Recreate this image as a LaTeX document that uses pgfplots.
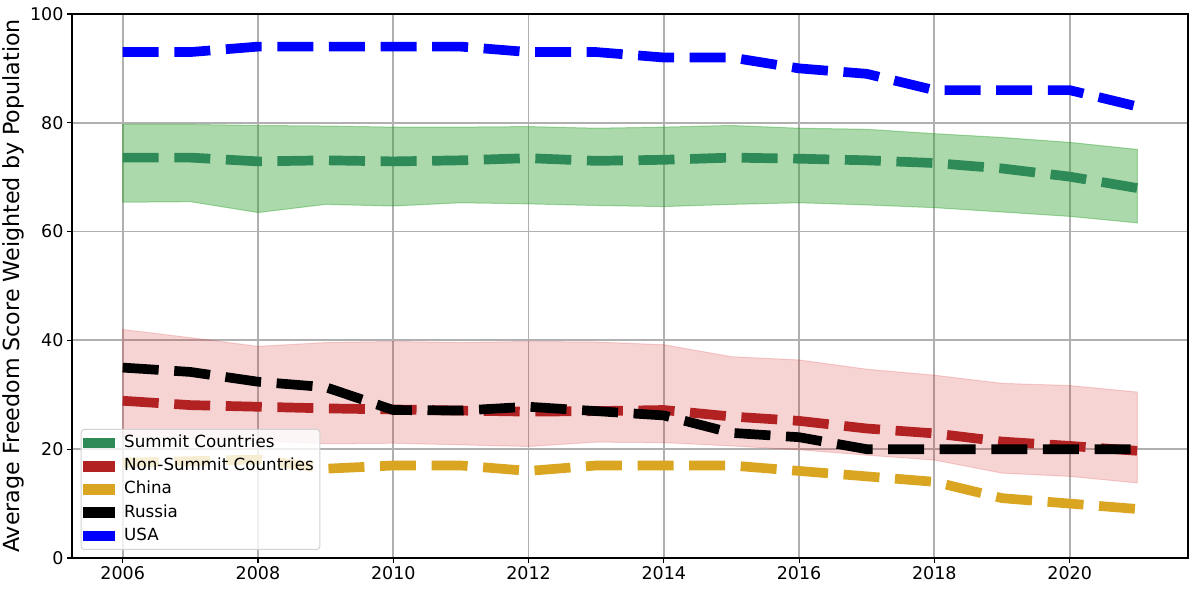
\documentclass[border=0pt]{standalone}
\usepackage{pgfplots}
\pgfplotsset{compat=1.18}
\usepackage{pgfplotstable}
\usepgfplotslibrary{fillbetween}
\usepackage{fontspec}
\setmainfont{DejaVu Sans}

\definecolor{seagreen}{RGB}{46,139,87}
\definecolor{firebrick}{RGB}{178,34,34}
\definecolor{goldenrod}{RGB}{218,165,32}
\definecolor{tabgreen}{RGB}{44,160,44}
\definecolor{tabred}{RGB}{214,39,40}
\definecolor{gridgray}{RGB}{176,176,176}

% year, summit mean/low/high, non-summit mean/low/high, China, Russia, USA
\pgfplotstableread{
year summit slo shi non nlo nhi china russia usa
2006 73.6 65.4 79.7 28.9 22.2 42.0 17.5 35.0 93
2007 73.6 65.5 79.7 28.1 22.0 40.5 17.8 34.2 93
2008 72.9 63.5 79.5 27.8 21.6 38.9 18.1 32.4 94
2009 73.1 65.0 79.4 27.5 21.0 39.6 16.4 31.4 94
2010 72.9 64.7 79.2 27.3 21.1 39.8 17.0 27.2 94
2011 73.1 65.3 79.2 27.1 20.8 39.6 17.0 27.1 94
2012 73.5 65.1 79.3 26.9 20.5 39.8 16.0 27.8 93
2013 73.0 64.8 79.0 27.0 21.3 39.7 17.0 27.0 93
2014 73.2 64.6 79.2 27.2 21.2 39.2 17.0 26.2 92
2015 73.6 65.0 79.5 26.0 20.6 37.0 17.0 23.0 92
2016 73.4 65.3 79.0 25.2 19.9 36.4 16.0 22.2 90
2017 73.1 64.9 78.8 23.8 18.9 34.7 15.0 20.0 89
2018 72.6 64.4 78.0 22.9 18.0 33.6 14.0 20.0 86
2019 71.6 63.6 77.3 21.4 15.6 32.1 11.0 20.0 86
2020 70.1 62.8 76.4 20.6 15.0 31.7 10.0 20.0 86
2021 68.0 61.6 75.1 19.7 13.8 30.5  9.0 20.0 83
}\freedom

\begin{document}
\begin{tikzpicture}
\begin{axis}[name=ax,
  width=1116pt,height=544pt,scale only axis,
  xmin=2005.25,xmax=2021.75,ymin=0,ymax=100,
  xtick={2006,2008,...,2020},ytick={0,20,...,100},
  x tick label style={/pgf/number format/1000 sep={}},
  /pgf/number format/assume math mode=true,
  ticklabel style={font=\fontsize{17.5}{18}\selectfont},
  tick pos=left,tick align=outside,major tick length=5pt,
  tick style={black,line width=1.1pt},
  axis line style={line width=1.1pt},
  grid=major,major grid style={gridgray,line width=1.8pt},
  ylabel={Average Freedom Score Weighted by Population},
  ylabel style={font=\fontsize{22.2}{24}\selectfont,at={(axis description cs:-0.0395,0.5)},anchor=south},
  every axis plot/.append style={line width=9.7pt,dash pattern=on 36pt off 15.6pt,line cap=butt,line join=round},
  legend image code/.code={\fill[#1,solid,sharp corners,draw=none,fill opacity=1] (0pt,-5.3pt) rectangle (32pt,5.3pt);},
  legend cell align=left,
  legend style={at={(0,0)},anchor=south west,xshift=8.7pt,yshift=8pt,
    draw=gray!35,line width=1pt,rounded corners=3pt,fill=white,fill opacity=0.8,text opacity=1,
    font=\fontsize{16.7}{18}\selectfont,inner sep=2pt,
    nodes={text height=12.2pt,text depth=3.5pt,inner ysep=3.75pt,inner xsep=4pt},
    /tikz/every odd column/.append style={column sep=5pt}},
]
\addplot[name path=shi,draw=none,forget plot] table[x=year,y=shi]{\freedom};
\addplot[name path=slo,draw=none,forget plot] table[x=year,y=slo]{\freedom};
\addplot[fill=tabgreen,fill opacity=0.4,draw=tabgreen,draw opacity=0.4,line width=1pt,solid,forget plot] fill between[of=shi and slo];
\addplot[name path=nhi,draw=none,forget plot] table[x=year,y=nhi]{\freedom};
\addplot[name path=nlo,draw=none,forget plot] table[x=year,y=nlo]{\freedom};
\addplot[fill=tabred,fill opacity=0.2,draw=tabred,draw opacity=0.2,line width=1pt,solid,forget plot] fill between[of=nhi and nlo];

\addplot[seagreen] table[x=year,y=summit]{\freedom};
\addlegendentry{Summit Countries}
\addplot[firebrick] table[x=year,y=non]{\freedom};
\addlegendentry{Non-Summit Countries}
\addplot[goldenrod] table[x=year,y=china]{\freedom};
\addlegendentry{China}
\addplot[black] table[x=year,y=russia]{\freedom};
\addlegendentry{Russia}
\addplot[blue] table[x=year,y=usa]{\freedom};
\addlegendentry{USA}
\end{axis}
\pgfresetboundingbox
\path ([xshift=-72pt,yshift=-32pt]ax.south west) rectangle ([xshift=7pt,yshift=14pt]ax.north east);
\end{tikzpicture}
\end{document}
